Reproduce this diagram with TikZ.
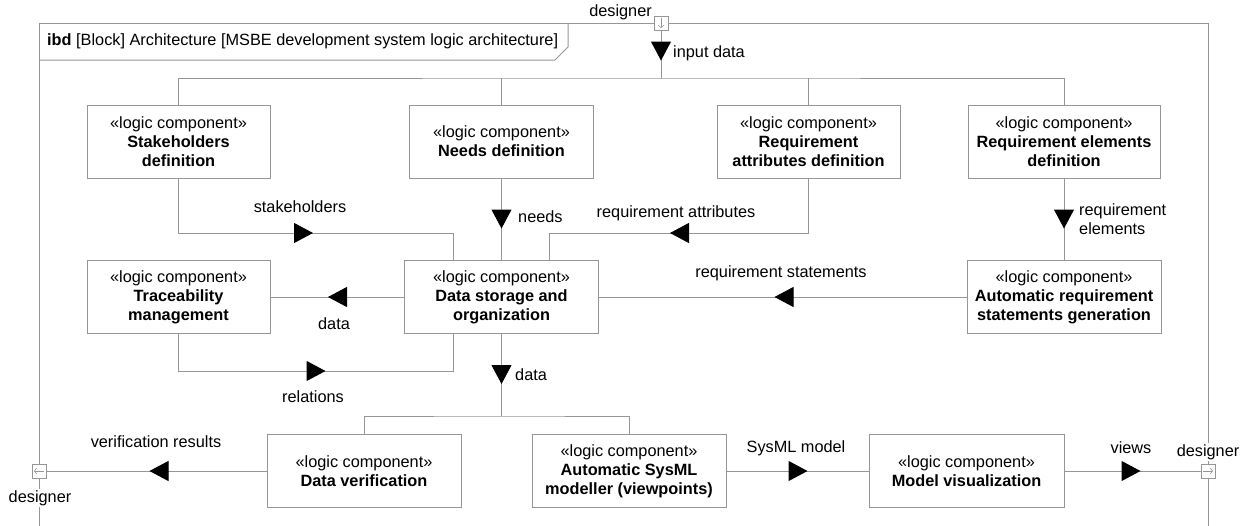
\documentclass[tikz,border=0pt]{standalone}
\usepackage{fontspec}
\setmainfont{Liberation Sans}
\usepackage{xcolor}
\usepackage{tikz}
\usetikzlibrary{arrows.meta,decorations.markings}

\definecolor{linegray}{RGB}{150,150,150}

\tikzset{
  comp/.style={draw=linegray, line width=1pt, fill=white, inner sep=2pt,
    minimum height=73pt, align=center, font=\fontsize{16.3}{19}\selectfont},
  conn/.style={draw=linegray, line width=1pt},
  midarrow/.style={postaction={decorate, decoration={markings,
    mark=at position #1 with {\arrow{Triangle[length=19pt,width=20pt,color=black]}}}}},
  lbl/.style={inner sep=0pt, font=\fontsize{16.3}{19}\selectfont, align=left},
  port/.style={draw=linegray, line width=1pt, fill=white, minimum size=14pt, inner sep=0pt},
  portarrow/.style={draw=linegray, line width=0.6pt, -{Straight Barb[length=2.5pt,width=6pt]}},
}

\begin{document}
\begin{tikzpicture}[x=1pt, y=-1pt]
        \useasboundingbox (0,0) rectangle (1245,525);

        % Overall frame
        \draw[conn] (39,530) -- (39,23) -- (1208,23) -- (1208,530);
        \draw[conn] (39,60) -- (555,60) -- (568,47) -- (568,23);
        \node[lbl, anchor=west] (title) at (47,41) {\textbf{ibd} [Block] Architecture [MSBE development system logic architecture]};

        % Ports
        \node[port] (pTop) at (661,23) {};
        \draw[portarrow] ([yshift=5pt]pTop.center) -- ([yshift=-5pt]pTop.center);
        \node[lbl, anchor=east] (dTop) at (652,12) {designer};

        \node[port] (pLeft) at (39,471) {};
        \draw[portarrow] ([xshift=5pt]pLeft.center) -- ([xshift=-5pt]pLeft.center);
        \node[lbl, fill=white, inner sep=1pt] (dLeft) at (40,498) {designer};

        \node[port] (pRight) at (1208,471) {};
        \draw[portarrow] ([xshift=-5pt]pRight.center) -- ([xshift=5pt]pRight.center);
        \node[lbl, fill=white, inner sep=1pt] (dRight) at (1208,452) {designer};

        % Top row
        \node[comp, minimum width=183pt] (stake) at (178.5,141.5) {«logic component»\\\textbf{Stakeholders}\\\textbf{definition}};
        \node[comp, minimum width=184pt] (needs) at (501.5,141.5) {«logic component»\\\textbf{Needs definition}};
        \node[comp, minimum width=183pt] (reqatt) at (808.5,141.5) {«logic component»\\\textbf{Requirement}\\\textbf{attributes definition}};
        \node[comp, minimum width=192pt] (reqelem) at (1064,141.5) {«logic component»\\\textbf{Requirement elements}\\\textbf{definition}};

        % Middle row
        \node[comp, minimum width=183pt] (trace) at (178.5,297) {«logic component»\\\textbf{Traceability}\\\textbf{management}};
        \node[comp, minimum width=194pt] (store) at (501.5,297) {«logic component»\\\textbf{Data storage and}\\\textbf{organization}};
        \node[comp, minimum width=194pt] (autostmt) at (1064,297) {«logic component»\\\textbf{Automatic requirement}\\\textbf{statements generation}};

        % Bottom row
        \node[comp, minimum width=194pt] (verif) at (364,471) {«logic component»\\\textbf{Data verification}};
        \node[comp, minimum width=194pt] (sysml) at (629,471) {«logic component»\\\textbf{Automatic SysML}\\\textbf{modeller (viewpoints)}};
        \node[comp, minimum width=195pt] (vis) at (966.5,471) {«logic component»\\\textbf{Model visualization}};

        % Helper levels
        \coordinate (bus) at (661,78);
        \coordinate (upper) at (0,233);
        \coordinate (lower) at (0,371);
        \coordinate (dbus) at (501.5,416);
        \coordinate (stkIn) at ([xshift=-48pt]store.north);
        \coordinate (attIn) at ([xshift=48pt]store.north);
        \coordinate (relIn) at ([xshift=-48pt]store.south);

        % Input data
        \draw[conn, midarrow=30pt] (pTop.south) -- (bus);
        \node[lbl, anchor=west] (lInput) at (673,53) {input data};
        \draw[conn] (stake.north) |- (bus) -| (reqelem.north);
        \draw[conn] (needs.north) -- (needs.north |- bus);
        \draw[conn] (reqatt.north) -- (reqatt.north |- bus);

        % Into data storage
        \draw[conn, midarrow=189pt] (stake.south) |- (stkIn |- upper) -- (stkIn);
        \node[lbl] (lStake) at (300,207) {stakeholders};

        \draw[conn, midarrow=50pt] (needs.south) -- (store.north);
        \node[lbl, anchor=west] (lNeeds) at (518,217) {needs};

        \draw[conn, midarrow=193pt] (reqatt.south) |- (attIn |- upper) -- (attIn);
        \node[lbl] (lAtt) at (676,213) {requirement attributes};

        \draw[conn, midarrow=50pt] (reqelem.south) -- (autostmt.north);
        \node[lbl, anchor=west] (lElem) at (1079,219) {requirement\\elements};

        \draw[conn, midarrow=192pt] (autostmt.west) -- (store.east);
        \node[lbl] (lStmt) at (781,273) {requirement statements};

        % Traceability
        \draw[conn, midarrow=76pt] (store.west) -- (trace.east);
        \node[lbl] (lData) at (334,324) {data};

        \draw[conn, midarrow=184pt] (trace.south) |- (relIn |- lower) -- (relIn);
        \node[lbl] (lRel) at (313,397) {relations};

        % Out of data storage
        \draw[conn, midarrow=50pt] (store.south) -- (dbus);
        \node[lbl, anchor=west] (lData2) at (515,375) {data};
        \draw[conn] (verif.north) |- (dbus) -| (sysml.north);

        % Outputs
        \draw[conn, midarrow=117pt] (verif.west) -- (pLeft.east);
        \node[lbl] (lVerif) at (156,442) {verification results};

        \draw[conn, midarrow=81pt] (sysml.east) -- (vis.west);
        \node[lbl] (lModel) at (796,448) {SysML model};

        \draw[conn, midarrow=76pt] (vis.east) -- (pRight.west);
        \node[lbl] (lViews) at (1131,448) {views};
\end{tikzpicture}
\end{document}
